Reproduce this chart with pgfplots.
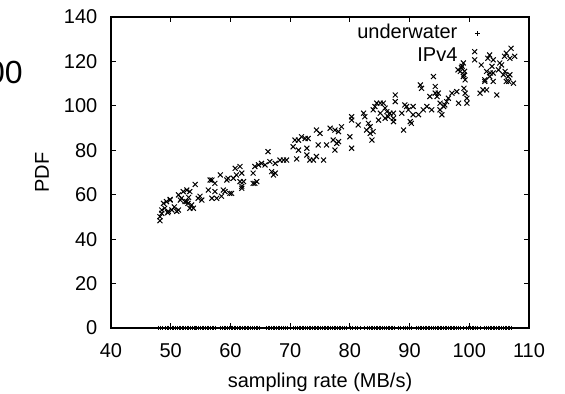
\documentclass[border=0pt]{standalone}
\usepackage{fontspec}
\setmainfont{Liberation Sans}
\usepackage{pgfplots}
\pgfplotsset{compat=1.18}
\begin{document}
\begin{tikzpicture}[font=\fontsize{10}{12}\selectfont]
\begin{axis}[
  at={(0,0)}, anchor=south west,
  scale only axis, width=209pt, height=155.5pt,
  xmin=40, xmax=110, ymin=0, ymax=140,
  xtick={40,50,...,110}, ytick={0,20,...,140},
  tick align=inside, major tick length=2.5pt,
  axis line style={line width=0.6pt},
  every tick/.style={black, line width=0.5pt},
  /pgf/number format/assume math mode=true,
  ticklabel style={font=\fontsize{10}{12}\selectfont},
  yticklabel style={xshift=-3.3pt},
  xticklabel style={yshift=-4pt},
  xlabel={sampling rate (MB/s)},
  ylabel={PDF},
  xlabel style={at={(axis description cs:0.5,0)}, anchor=base, yshift=-29.5pt},
  ylabel style={at={(axis description cs:-0.165,0.5)}, anchor=center},
  legend plot pos=right,
  legend cell align=right,
  legend style={draw=none, fill=none, inner sep=0pt, outer sep=0pt,
    at={(axis description cs:0.9,0.984)}, anchor=north east,
    nodes={inner sep=1pt, text height=7.5pt, text depth=2pt},
    row sep=0pt, /tikz/column sep=3.9pt},
]
\addplot[only marks, mark=+, mark size=1.2pt, line width=0.5pt, black,
  legend image code/.code={\path[draw=none, fill=none] (0pt,-3pt) rectangle (10pt,3pt);
    \draw[mark=+, mark size=1.2pt, line width=0.5pt, black] plot coordinates {(5pt,0pt)};}]
coordinates {
(47.9,0)(48.3,0)(48.6,0)(49.1,0)(49.4,0)(49.7,0)(50.0,0)(50.3,0)(50.5,0)(50.8,0)
(51.1,0)(51.4,0)(51.6,0)(51.9,0)(52.2,0)(52.5,0)(52.8,0)(53.0,0)(53.3,0)(53.6,0)
(53.9,0)(54.2,0)(54.4,0)(54.7,0)(55.0,0)(55.3,0)(55.5,0)(55.8,0)(56.1,0)(56.4,0)
(56.7,0)(57.0,0)(57.2,0)(57.5,0)
(58.4,0)(58.7,0)(59.0,0)(59.2,0)(59.5,0)(59.8,0)(60.1,0)(60.3,0)(60.6,0)(60.9,0)
(61.2,0)(61.5,0)(61.7,0)(62.0,0)(62.3,0)(62.6,0)(62.9,0)(63.1,0)(63.4,0)(63.7,0)
(64.0,0)(64.3,0)(64.6,0)(64.9,0)
(66.0,0)(66.3,0)(66.6,0)(66.9,0)(67.2,0)(67.4,0)(67.7,0)(68.0,0)(68.3,0)(68.6,0)
(68.9,0)(69.2,0)(69.5,0)(70.0,0)(70.5,0)
(70.9,0)(71.2,0)(71.5,0)(71.8,0)(72.0,0)(72.3,0)(72.6,0)(72.9,0)(73.2,0)(73.4,0)
(73.7,0)(74.0,0)(74.3,0)(74.6,0)(74.8,0)(75.1,0)(75.4,0)(75.7,0)(76.0,0)(76.2,0)
(76.5,0)(76.8,0)(77.1,0)(77.4,0)(77.6,0)(77.9,0)(78.2,0)(78.5,0)(78.8,0)(79.1,0)
(79.4,0)
(80.1,0)(80.5,0)(80.9,0)(81.2,0)(81.8,0)(82.5,0)
(83.0,0)(83.3,0)(83.6,0)(83.8,0)(84.1,0)(84.4,0)(84.7,0)(85.0,0)(85.2,0)(85.5,0)
(85.8,0)(86.1,0)(86.4,0)(86.7,0)(86.9,0)(87.2,0)(87.5,0)
(88.1,0)(88.4,0)(88.9,0)(89.3,0)(89.6,0)(90.0,0)(90.3,0)
(91.2,0)(91.5,0)(91.8,0)(92.0,0)(92.3,0)(92.6,0)(92.9,0)(93.2,0)(93.4,0)(93.7,0)
(94.0,0)(94.3,0)(94.6,0)(94.8,0)(95.1,0)(95.4,0)(95.7,0)(96.0,0)(96.2,0)(96.5,0)
(96.8,0)(97.1,0)(97.4,0)(97.6,0)(97.9,0)(98.2,0)(98.5,0)
(99.0,0)(99.6,0)(99.9,0)(100.2,0)(100.5,0)(100.7,0)(101.0,0)(101.3,0)(101.8,0)
(102.6,0)(102.9,0)(103.2,0)(103.5,0)(103.7,0)(104.0,0)(104.3,0)(104.6,0)(104.9,0)
(105.1,0)(105.4,0)(105.7,0)(106.0,0)(106.3,0)(106.5,0)(106.8,0)(107.1,0)
};
\addlegendentry{underwater}
\addplot[only marks, mark=x, mark size=1.75pt, line width=0.5pt, black,
  legend image code/.code={\path[draw=none, fill=none] (0pt,-3pt) rectangle (10pt,3pt);}]
coordinates {
(48.2,48.3)(48.2,50.1)(48.5,51.6)(49.0,53.9)(48.8,56.1)(49.3,56.9)(49.9,57.9)(49.6,52.5)
(50.2,53.1)(51.0,52.5)(51.3,53.1)(51.3,59.9)(51.6,57.6)(52.1,61.4)(52.7,62.1)(53.2,61.4)
(52.4,56.9)(52.9,56.1)(53.5,55.4)(53.2,53.9)(54.1,64.6)(54.6,58.4)(54.9,59.3)(56.3,62.1)
(56.6,66.6)(56.9,66.6)(56.9,58.4)(57.4,65.1)(57.7,58.4)(58.3,68.9)(58.5,59.3)(58.8,62.1)
(59.1,61.4)(59.4,66.6)(59.6,67.4)(59.9,60.6)(60.5,67.4)(60.8,71.9)(61.0,68.9)(61.6,72.7)
(61.9,69.7)(61.6,65.9)(61.9,62.9)(62.2,65.9)(63.8,69.7)(64.1,72.7)(64.1,65.1)(64.4,65.9)
(64.7,73.4)(65.2,74.1)(65.8,73.4)(66.3,79.4)(66.6,74.9)(66.9,70.4)(67.2,68.9)(67.5,69.7)
(67.5,74.1)
(48.5,53.1)(49.5,51.9)(51.8,58.4)(52.7,56.9)(53.8,53.9)(55.2,57.6)(57.4,61.4)(60.2,60.6)
(61.9,63.8)(63.8,65.1)(49.9,57.6)(50.6,54.5)(53.0,58.8)
(68.3,75.6)(68.9,75.6)(69.4,75.6)(71.1,76.1)(70.8,84.6)(71.4,84.6)(70.5,81.6)(71.4,80.1)
(71.9,86.1)(72.5,85.3)(73.0,85.3)(72.8,80.9)(72.8,77.9)(73.3,75.6)(73.9,75.6)(74.4,77.2)
(74.4,89.1)(75.0,87.6)(74.7,82.4)(75.6,75.6)(76.1,82.4)(76.7,89.9)(77.2,84.6)(77.5,89.1)
(77.5,80.1)(77.8,83.1)(78.1,83.9)(78.1,88.4)(78.6,90.6)(80.0,86.1)(80.3,95.1)(80.3,80.9)
(80.3,93.6)(81.4,91.4)(82.3,96.7)(82.5,95.1)(82.8,89.1)(83.1,92.1)(83.4,87.6)(83.7,84.6)
(83.4,90.6)(83.9,88.4)(83.9,98.2)(84.2,99.7)(84.5,101.2)(84.8,93.6)(85.1,96.7)(85.1,101.2)
(85.6,101.2)(85.9,99.0)(85.9,94.4)(86.2,97.4)(86.4,95.1)(86.7,96.7)(87.3,92.9)(87.6,104.9)
(87.6,101.9)(87.3,96.7)(87.3,94.4)(88.7,96.7)(89.0,89.1)(89.2,100.4)(89.5,99.7)(89.8,98.2)
(90.1,92.9)(90.3,92.1)(90.6,99.7)(90.6,96.0)(91.5,96.0)(91.8,109.4)(92.0,107.9)(92.3,98.2)
(92.9,99.7)(93.7,98.2)(94.0,113.2)(93.4,104.2)(94.3,108.7)(94.3,105.7)(94.6,104.2)(94.8,105.7)
(95.1,101.2)(95.1,98.2)(95.4,96.0)(95.7,99.7)(95.9,100.4)(96.2,101.9)(96.5,103.4)(97.1,105.7)
(97.9,106.4)(98.2,101.2)(98.5,115.5)(98.8,117.8)(99.1,114.0)(99.3,111.7)(99.1,107.9)(99.3,105.7)
(99.6,103.4)(99.6,101.2)(101.8,105.7)(102.6,111.0)(102.9,107.2)(103.5,114.8)(103.8,117.8)(104.0,114.8)
(104.0,111.0)(104.6,104.9)(104.9,116.2)(105.4,118.4)(105.7,114.0)(106.0,115.5)(106.6,111.0)(106.8,114.0)
(107.4,110.2)
(100.9,124.4)(100.9,120.7)(102.0,118.4)(103.1,121.4)(103.4,122.9)(104.0,120.7)(105.1,119.3)(105.9,122.3)
(106.2,123.7)(107.0,125.9)(107.6,122.3)(106.8,121.4)(99.0,119.3)(98.7,117.1)(98.1,116.2)(99.2,115.5)
(99.0,113.2)(102.9,115.5)(103.4,113.2)(102.6,111.7)(106.5,113.2)(106.2,111.0)(102.3,107.2)
};
\addlegendentry{IPv4}
\end{axis}
\node[anchor=east, inner sep=0pt, font=\fontsize{16}{19}\selectfont] at (-44pt,128pt) {00};
\pgfresetboundingbox
\useasboundingbox (-55.5pt,-33pt) rectangle (227pt,164pt);
\end{tikzpicture}
\end{document}
